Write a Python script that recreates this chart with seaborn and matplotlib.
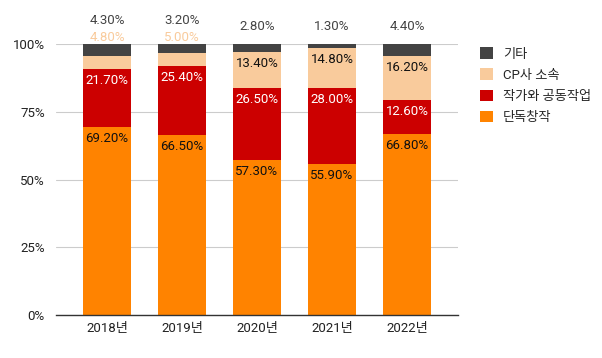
import matplotlib
matplotlib.use("Agg")
import matplotlib.pyplot as plt
from matplotlib.patches import Patch
import seaborn as sns
import pandas as pd
import numpy as np

years = ["2018년", "2019년", "2020년", "2021년", "2022년"]
solo = [69.2, 66.5, 57.3, 55.9, 66.8]        # 단독창작
collab = [21.7, 25.4, 26.5, 28.0, 12.6]      # 작가와 공동작업
cp = [4.8, 5.0, 13.4, 14.8, 16.2]            # CP사 소속
etc = [4.3, 3.2, 2.8, 1.3, 4.4]              # 기타

names = ["단독창작", "작가와 공동작업", "CP사 소속", "기타"]
colors = ["#ff8300", "#cc0000", "#f9cb9c", "#434343"]
text_colors = ["#111111", "#ffffff", "#111111", "#ffffff"]

sns.set_theme(style="white")
plt.rcParams["font.family"] = ["Roboto", "Noto Sans CJK KR", "DejaVu Sans"]

df = pd.DataFrame({"year": years, "단독창작": solo, "작가와 공동작업": collab,
                   "CP사 소속": cp, "기타": etc})
vals = df[names].to_numpy()
totals = vals.sum(axis=1, keepdims=True)
share = vals / totals
cum = np.cumsum(share, axis=1)

fig = plt.figure(figsize=(6.02, 3.58), dpi=100)
ax = fig.add_axes([56/602, 1 - 315/358, (458-56)/602, (315-44)/358])

# draw cumulative bars from tallest to shortest so each layer shows
for i in range(len(names) - 1, -1, -1):
    plot_df = pd.DataFrame({"year": years, "v": cum[:, i]})
    sns.barplot(data=plot_df, x="year", y="v", color=colors[i], width=0.65,
                saturation=1, ax=ax, zorder=2, linewidth=0)

FS = 9.5
ax.set_ylim(0, 1)
ax.set_xlim(-0.68, 4.68)
ax.set_yticks([0, 0.25, 0.5, 0.75, 1.0])
ax.set_yticklabels(["0%", "25%", "50%", "75%", "100%"], fontsize=FS, color="#222222")
ax.tick_params(axis="x", labelsize=FS, colors="#222222", length=0, pad=5)
ax.tick_params(axis="y", length=0, pad=8)
ax.set_xlabel("")
ax.set_ylabel("")
ax.grid(axis="y", color="#cccccc", linewidth=0.8, zorder=0)
for s in ["top", "right", "left"]:
    ax.spines[s].set_visible(False)
ax.spines["bottom"].set_color("#333333")
ax.spines["bottom"].set_linewidth(1)
ax.spines["bottom"].set_zorder(3)

for j in range(len(years)):
    # inside labels
    for i in range(3):
        v = vals[j, i]
        top = cum[j, i]
        if v >= 10:
            ax.annotate(f"{v:.2f}%", xy=(j, top), xytext=(0, -5),
                        textcoords="offset pixels", ha="center", va="top",
                        fontsize=FS, color=text_colors[i], zorder=5)
    # outside labels
    small_cp = vals[j, 2] < 10
    if small_cp:
        ax.annotate(f"{vals[j, 2]:.2f}%", xy=(j, 1.0), xytext=(0, 7),
                    textcoords="offset pixels", ha="center", va="center",
                    fontsize=FS, color="#f9cb9c", annotation_clip=False)
        ax.annotate(f"{vals[j, 3]:.2f}%", xy=(j, 1.0), xytext=(0, 24),
                    textcoords="offset pixels", ha="center", va="center",
                    fontsize=FS, color="#444444", annotation_clip=False)
    else:
        ax.annotate(f"{vals[j, 3]:.2f}%", xy=(j, 1.0), xytext=(0, 18),
                    textcoords="offset pixels", ha="center", va="center",
                    fontsize=FS, color="#444444", annotation_clip=False)

handles = [Patch(facecolor=colors[i], edgecolor="none", label=names[i])
           for i in range(len(names) - 1, -1, -1)]
fig.legend(handles=handles, loc="upper left", bbox_to_anchor=(475/602, 1 - 42/358),
           frameon=False, fontsize=FS, handlelength=0.95, handleheight=0.95,
           handletextpad=0.75, labelspacing=0.6, borderaxespad=0)

fig.savefig("out.png", dpi=100)
